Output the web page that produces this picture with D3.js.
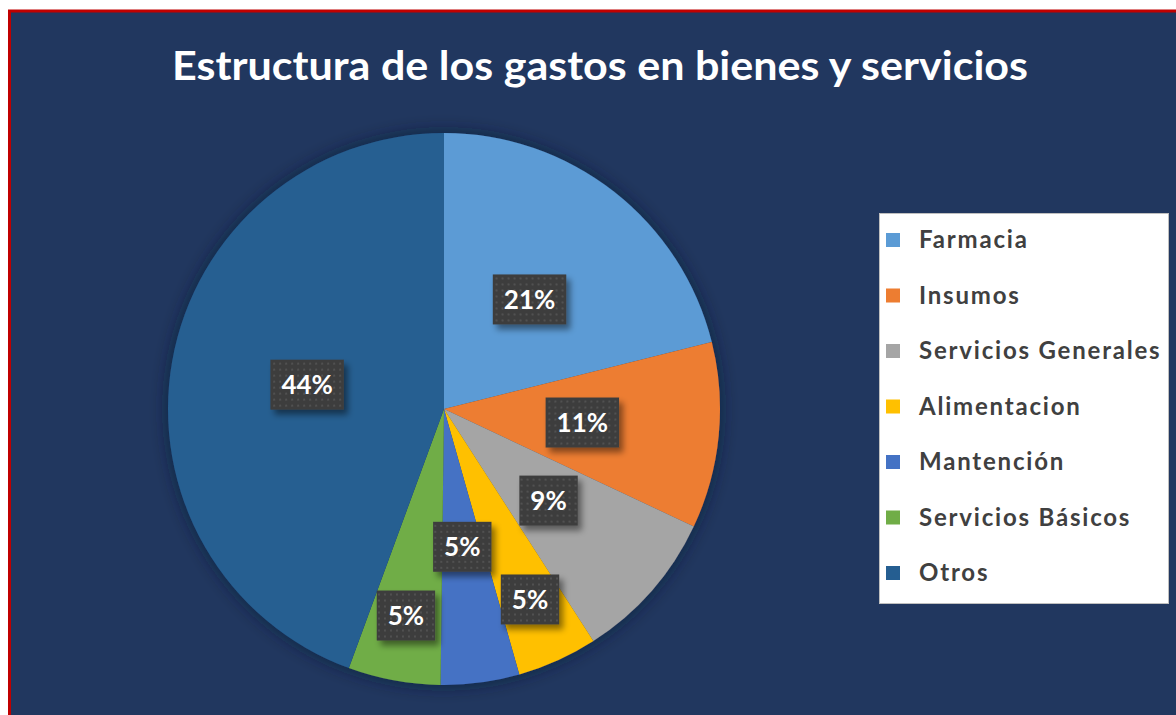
<!DOCTYPE html>
<html><head><meta charset="utf-8">
<script src="https://cdn.jsdelivr.net/npm/d3@7"></script>
<style>html,body{margin:0;padding:0;background:#fff;}svg{display:block;}</style>
</head><body>
<svg id="chart" width="1176" height="715"></svg>
<script>
const title = "Estructura de los gastos en bienes y servicios";
const categories = ["Farmacia","Insumos","Servicios Generales","Alimentacion","Mantención","Servicios Básicos","Otros"];
const values = [21.1, 10.9, 8.9, 4.7, 4.6, 5.4, 44.4];
const colors = ["#5B9BD5","#ED7D31","#A5A5A5","#FFC000","#4472C4","#70AD47","#255E91"];

// layout constants
const W = 1176, H = 715;
const cx = 444, cy = 409, R = 276;
const labelR = [139,139,139,209,139,210,139];

const svg = d3.select("#chart");
const defs = svg.append("defs");
const pat = defs.append("pattern").attr("id","dots").attr("width",6).attr("height",6).attr("patternUnits","userSpaceOnUse");
pat.append("rect").attr("width",6).attr("height",6).attr("fill","#3d3d3d");
pat.append("circle").attr("cx",3).attr("cy",3).attr("r",0.9).attr("fill","#5a5a5a");
const sh = defs.append("filter").attr("id","pieShadow").attr("x","-20%").attr("y","-20%").attr("width","140%").attr("height","140%");
sh.append("feDropShadow").attr("dx",0).attr("dy",0).attr("stdDeviation",9).attr("flood-color","#0c1a33").attr("flood-opacity",0.7);
const lsh = defs.append("filter").attr("id","lblShadow").attr("x","-30%").attr("y","-30%").attr("width","170%").attr("height","180%");
lsh.append("feDropShadow").attr("dx",4).attr("dy",5).attr("stdDeviation",3).attr("flood-color","#000").attr("flood-opacity",0.45);

// frame
svg.append("rect").attr("x",9.5).attr("y",11).attr("width",W+20).attr("height",H+20)
  .attr("fill","#21375F").attr("stroke","#C00000").attr("stroke-width",3);

// title
svg.append("text").attr("x",600).attr("y",80).attr("text-anchor","middle")
  .attr("font-family","Lato, 'Open Sans', sans-serif").attr("font-weight","bold").attr("font-size",40)
  .attr("fill","#fff").attr("textLength",856).attr("lengthAdjust","spacingAndGlyphs").text(title);

// pie
const data = categories.map((c,i)=>({name:c, value:values[i], color:colors[i], lr:labelR[i]}));
const pie = d3.pie().sort(null).value(d=>d.value).startAngle(0).endAngle(2*Math.PI);
const arcs = pie(data);
const arc = d3.arc().innerRadius(0).outerRadius(R);
const g = svg.append("g").attr("transform",`translate(${cx},${cy})`);
g.append("g").attr("filter","url(#pieShadow)").selectAll("path").data(arcs).join("path")
  .attr("d",arc).attr("fill",d=>d.data.color);

// labels
const lg = g.append("g");
arcs.forEach(a=>{
  const la = d3.arc().innerRadius(a.data.lr).outerRadius(a.data.lr);
  const [x,y] = la.centroid(a);
  const txt = Math.round(a.data.value) + "%";
  const node = lg.append("g").attr("transform",`translate(${x},${y})`);
  const r = node.append("rect").attr("fill","url(#dots)").attr("filter","url(#lblShadow)");
  const t = node.append("text").attr("text-anchor","middle").attr("dy","0.35em")
    .attr("font-family","Lato, sans-serif").attr("font-weight","bold").attr("font-size",26)
    .attr("fill","#fff").text(txt);
  const bw = t.node().getComputedTextLength() + 22;
  const bh = 50;
  r.attr("x",-bw/2).attr("y",-bh/2).attr("width",bw).attr("height",bh);
});

// legend
const lx = 879, ly = 213;
const leg = svg.append("g");
leg.append("rect").attr("x",lx+0.5).attr("y",ly+0.5).attr("width",289).attr("height",390)
  .attr("fill","#fff").attr("stroke","#BFBFBF");
const rowY = d3.scalePoint().domain(categories).range([240,573]);
const items = leg.selectAll("g.item").data(data).join("g").attr("class","item")
  .attr("transform",d=>`translate(0,${rowY(d.name)})`);
items.append("rect").attr("x",886).attr("y",-7).attr("width",14).attr("height",14).attr("fill",d=>d.color);
items.append("text").attr("x",919).attr("dy","0.35em")
  .attr("font-family","Lato, sans-serif").attr("font-weight","bold").attr("font-size",24)
  .attr("letter-spacing",1.8).attr("fill","#404040").text(d=>d.name);
</script>
</body></html>
